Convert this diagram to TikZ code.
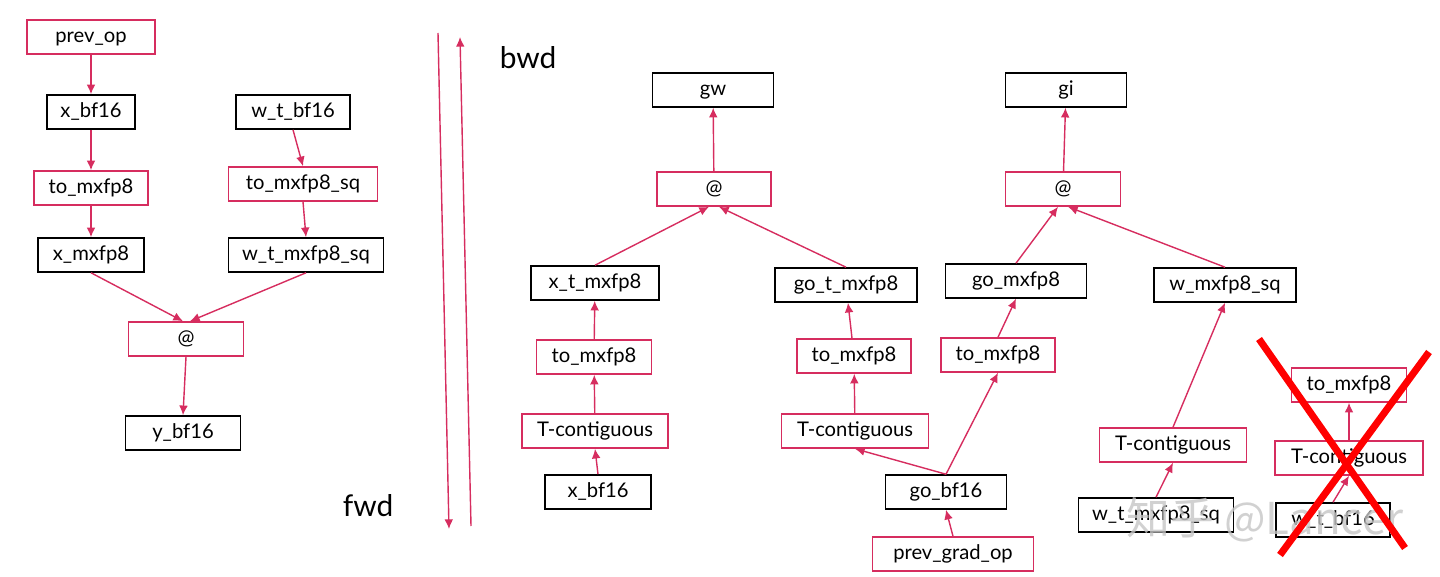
\documentclass[tikz,border=0pt]{standalone}
\usepackage{fontspec}
\setmainfont{Lato}
\newfontfamily\cjk{Noto Sans CJK SC}
\usetikzlibrary{arrows.meta}
\definecolor{oprose}{RGB}{214,45,95}

\begin{document}
\begin{tikzpicture}[x=0.02cm,y=-0.02cm,
  font=\fontsize{11.5}{13}\selectfont,
  var/.style={draw=black, line width=0.9pt, minimum height=0.68cm, inner sep=0pt, text height=1.75ex, text depth=0.45ex},
  op/.style={draw=oprose, line width=0.9pt, minimum height=0.68cm, inner sep=0pt, text height=1.75ex, text depth=0.45ex},
  flow/.style={draw=oprose, line width=0.8pt, -{Latex[length=5.5pt,width=5pt]}},
  dirline/.style={draw=oprose, line width=0.8pt}]

\useasboundingbox (0,0) rectangle (1440,577);

\node[op, minimum width=2.56cm] (prevop) at (91,37) {prev\_op};
\node[var, minimum width=1.76cm] (xbf) at (91,112) {x\_bf16};
\node[var, minimum width=2.28cm] (wtbf) at (293,112) {w\_t\_bf16};
\node[op, minimum width=2.28cm] (tofx) at (91,188) {to\_mxfp8};
\node[op, minimum width=2.98cm] (tofw) at (303,184) {to\_mxfp8\_sq};
\node[var, minimum width=2.12cm] (xmx) at (91,255) {x\_mxfp8};
\node[var, minimum width=3.1cm] (wtmx) at (306,255) {w\_t\_mxfp8\_sq};
\node[op, minimum width=2.3cm] (mmf) at (186,339) {@};
\node[var, minimum width=2.3cm] (ybf) at (183,433) {y\_bf16};

\draw[flow] (prevop) -- (xbf);
\draw[flow] (xbf) -- (tofx);
\draw[flow] (tofx) -- (xmx);
\draw[flow] (wtbf.south) -- (tofw.north);
\draw[flow] (tofw.south) -- (wtmx.north);
\draw[flow] (xmx.south) -- ([xshift=-0.06cm]mmf.north);
\draw[flow] (wtmx.south) -- ([xshift=0.08cm]mmf.north);
\draw[flow] (mmf.south) -- (ybf.north);

\coordinate (fwdtop) at (438,33);
\coordinate (fwdend) at (449,529);
\coordinate (bwdstart) at (471,526);
\coordinate (bwdend) at (460,37);
\draw[dirline, -{Latex[length=5.5pt,width=5pt]}] (fwdtop) -- (fwdend);
\draw[dirline, -{Latex[length=5.5pt,width=5pt]}] (bwdstart) -- (bwdend);
\node[font=\fontsize{17}{20}\selectfont] (fwd) at (368,506) {fwd};
\node[font=\fontsize{17}{20}\selectfont] (bwd) at (528,58) {bwd};

\node[var, minimum width=2.42cm] (gw) at (713,90) {gw};
\node[op, minimum width=2.28cm] (mmw) at (714,189) {@};
\node[var, minimum width=2.56cm] (xtmx) at (595,283) {x\_t\_mxfp8};
\node[var, minimum width=2.84cm] (gotmx) at (846,285) {go\_t\_mxfp8};
\node[op, minimum width=2.3cm] (tofxt) at (594,357) {to\_mxfp8};
\node[op, minimum width=2.92cm] (tcx) at (595,431) {T-contiguous};
\node[var, minimum width=2.12cm] (xbfb) at (598,492) {x\_bf16};
\node[op, minimum width=2.28cm] (tofgot) at (854,356) {to\_mxfp8};
\node[op, minimum width=2.94cm] (tcgo) at (855,431) {T-contiguous};
\node[var, minimum width=2.42cm] (gobf) at (946,492) {go\_bf16};
\node[op, minimum width=3.22cm] (prevgrad) at (953,554) {prev\_grad\_op};

\node[var, minimum width=2.42cm] (gi) at (1066,90) {gi};
\node[op, minimum width=2.3cm] (mmi) at (1063,189) {@};
\node[var, minimum width=2.82cm] (gomx) at (1016,281) {go\_mxfp8};
\node[op, minimum width=2.28cm] (tofgo) at (998,355) {to\_mxfp8};
\node[var, minimum width=2.84cm] (wmx) at (1225,285) {w\_mxfp8\_sq};
\node[op, minimum width=2.94cm] (tcw) at (1173,445) {T-contiguous};
\node[var, minimum width=3.1cm] (wtmxb) at (1156,515) {w\_t\_mxfp8\_sq};

\node[op, minimum width=2.3cm] (tofdrop) at (1349,385) {to\_mxfp8};
\node[op, minimum width=2.96cm] (tcdrop) at (1349,458) {T-contiguous};
\node[var, minimum width=2.28cm] (wtbfdrop) at (1333,520) {w\_t\_bf16};

\draw[flow] (mmw) -- (gw);
\draw[flow] (xtmx.north) -- ([xshift=-0.1cm]mmw.south);
\draw[flow] (gotmx.north) -- ([xshift=0.1cm]mmw.south);
\draw[flow] (tofxt) -- (xtmx);
\draw[flow] (tcx) -- (tofxt);
\draw[flow] (xbfb.north) -- (tcx.south);
\draw[flow] (tofgot) -- (gotmx);
\draw[flow] (tcgo) -- (tofgot);
\draw[flow] (gobf.north) -- (tcgo.south);
\draw[flow] (gobf.north) -- (tofgo.south);
\draw[flow] (prevgrad.north) -- (gobf.south);

\draw[flow] (mmi) -- (gi);
\draw[flow] (gomx.north) -- ([xshift=-0.1cm]mmi.south);
\draw[flow] (wmx.north) -- ([xshift=0.1cm]mmi.south);
\draw[flow] (tofgo.north) -- (gomx.south);
\draw[flow] (tcw.north) -- (wmx.south);
\draw[flow] (wtmxb.north) -- (tcw.south);

\draw[flow] (tcdrop) -- (tofdrop);
\draw[flow] (wtbfdrop.north) -- (tcdrop.south);

\node[text=gray!45, opacity=0.8, font=\cjk\fontsize{25}{28}\selectfont] (mark) at (1265,520) {知乎 @Lancer};

\coordinate (xa) at (1259,339);
\coordinate (xb) at (1405,548);
\coordinate (xc) at (1429,352);
\coordinate (xd) at (1280,555);
\draw[red, line width=4pt] (xa) -- (xb);
\draw[red, line width=4pt] (xc) -- (xd);

\end{tikzpicture}
\end{document}
